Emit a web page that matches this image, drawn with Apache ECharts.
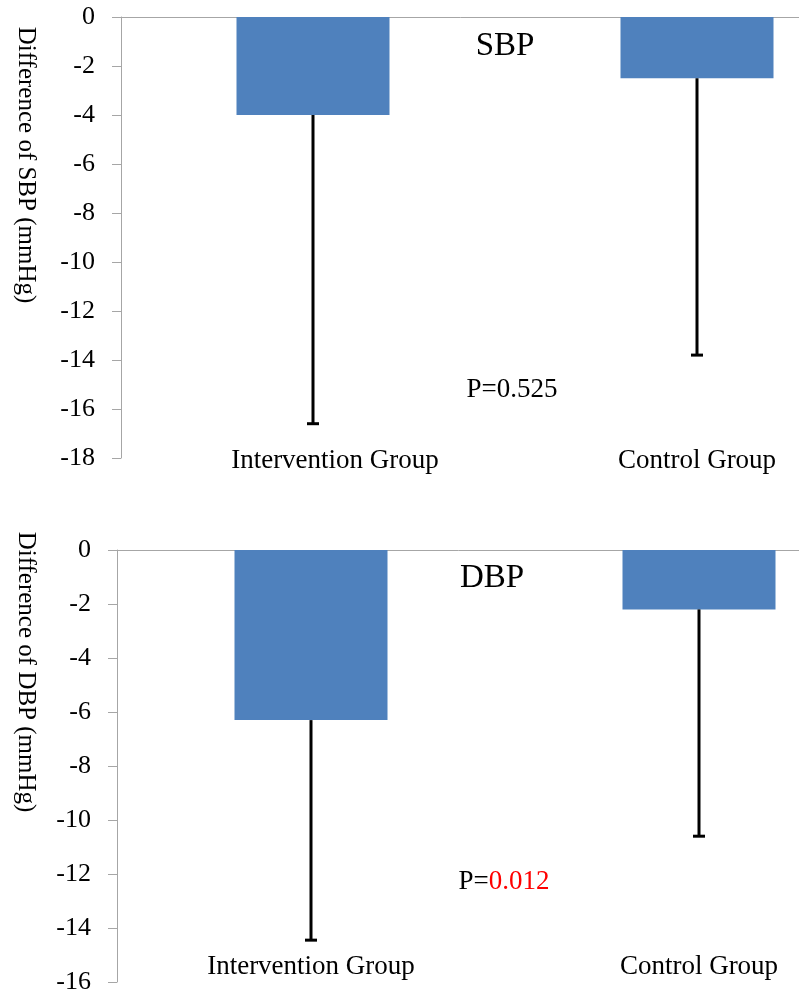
<!DOCTYPE html>
<html>
<head>
<meta charset="utf-8">
<script src="https://cdn.jsdelivr.net/npm/echarts@6/dist/echarts.min.js"></script>
<style>
  body { margin: 0; background: #fff; }
  #chart { width: 799px; height: 996px; }
</style>
</head>
<body>
<div id="chart"></div>
<script>
// values
const categories = ['Intervention Group', 'Control Group']
const sbpMean = [-4.0, -2.5]
const sbpErrEnd = [-16.6, -13.8]
const dbpMean = [-6.3, -2.2]
const dbpErrEnd = [-14.45, -10.6]
const sbpAxis = { min: -18, max: 0, interval: 2 }
const dbpAxis = { min: -16, max: 0, interval: 2 }

const serif = 'Liberation Serif'
const axisGray = '#a6a6a6'
const barBlue = '#4f81bd'

function errorData(mean, end) {
  return mean.map((m, i) => [i, m, end[i]])
}

function renderError(params, api) {
  const top = api.coord([api.value(0), api.value(1)])
  const bot = api.coord([api.value(0), api.value(2)])
  const style = { stroke: '#000', lineWidth: 3 }
  return {
    type: 'group',
    children: [
      { type: 'line', shape: { x1: top[0], y1: top[1], x2: bot[0], y2: bot[1] }, style },
      { type: 'line', shape: { x1: bot[0] - 6, y1: bot[1], x2: bot[0] + 6, y2: bot[1] }, style }
    ]
  }
}

function yAxisFor(gridIndex, range) {
  return {
    type: 'value',
    gridIndex: gridIndex,
    min: range.min,
    max: range.max,
    interval: range.interval,
    axisLine: { show: true, lineStyle: { color: axisGray } },
    axisTick: { show: true, length: 9, lineStyle: { color: axisGray } },
    splitLine: { show: false },
    axisLabel: { margin: 26, color: '#000', fontFamily: serif, fontSize: 26 }
  }
}

function topAxis(gridIndex) {
  return {
    type: 'category',
    gridIndex: gridIndex,
    position: 'top',
    data: categories,
    axisLine: { onZero: false, lineStyle: { color: axisGray } },
    axisTick: { inside: true, length: 9, lineStyle: { color: axisGray } },
    axisLabel: { show: false }
  }
}

// category names sit under the plot, on an axis with no line
function labelAxis(gridIndex, margin, firstShift) {
  return {
    type: 'category',
    gridIndex: gridIndex,
    position: 'bottom',
    data: categories,
    axisLine: { show: false },
    axisTick: { show: false },
    axisLabel: {
      margin: margin,
      verticalAlign: 'middle',
      color: '#000',
      fontFamily: serif,
      fontSize: 27,
      formatter: (v, i) => (i === 0 && firstShift ? '{pad|}' + v : v),
      rich: { pad: { width: firstShift } }
    }
  }
}

const chart = echarts.init(document.getElementById('chart'))
chart.setOption({
  animation: false,
  backgroundColor: '#fff',
  grid: [
    { left: 121, top: 17, height: 441, right: -90, outerBoundsMode: 'none' },
    { left: 117, top: 550, height: 432, right: -94, outerBoundsMode: 'none' }
  ],
  xAxis: [topAxis(0), topAxis(1), labelAxis(0, 3, 44), labelAxis(1, -15, 0)],
  yAxis: [yAxisFor(0, sbpAxis), yAxisFor(1, dbpAxis)],
  graphic: [
    {
      type: 'text', x: 26, y: 165, rotation: -Math.PI / 2,
      style: { text: 'Difference of SBP (mmHg)', font: '25px "Liberation Serif"', fill: '#000', align: 'center', verticalAlign: 'middle' }
    },
    {
      type: 'text', x: 26, y: 672, rotation: -Math.PI / 2,
      style: { text: 'Difference of DBP (mmHg)', font: '25px "Liberation Serif"', fill: '#000', align: 'center', verticalAlign: 'middle' }
    },
    {
      type: 'text', x: 505, y: 46,
      style: { text: 'SBP', font: '33px "Liberation Serif"', fill: '#000', align: 'center', verticalAlign: 'middle' }
    },
    {
      type: 'text', x: 492, y: 578,
      style: { text: 'DBP', font: '33px "Liberation Serif"', fill: '#000', align: 'center', verticalAlign: 'middle' }
    },
    {
      type: 'text', x: 512, y: 390,
      style: { text: 'P=0.525', font: '27px "Liberation Serif"', fill: '#000', align: 'center', verticalAlign: 'middle' }
    },
    {
      type: 'text', x: 504, y: 882,
      style: {
        text: '{a|P=}{b|0.012}',
        align: 'center', verticalAlign: 'middle',
        rich: {
          a: { fontFamily: serif, fontSize: 27, fill: '#000' },
          b: { fontFamily: serif, fontSize: 27, fill: '#ff0000' }
        }
      }
    }
  ],
  series: [
    {
      type: 'bar', xAxisIndex: 0, yAxisIndex: 0, data: sbpMean,
      barWidth: 153, itemStyle: { color: barBlue }
    },
    {
      type: 'custom', xAxisIndex: 0, yAxisIndex: 0, z: 5,
      data: errorData(sbpMean, sbpErrEnd), renderItem: renderError
    },
    {
      type: 'bar', xAxisIndex: 1, yAxisIndex: 1, data: dbpMean,
      barWidth: 153, itemStyle: { color: barBlue }
    },
    {
      type: 'custom', xAxisIndex: 1, yAxisIndex: 1, z: 5,
      data: errorData(dbpMean, dbpErrEnd), renderItem: renderError
    }
  ]
})
</script>
</body>
</html>
